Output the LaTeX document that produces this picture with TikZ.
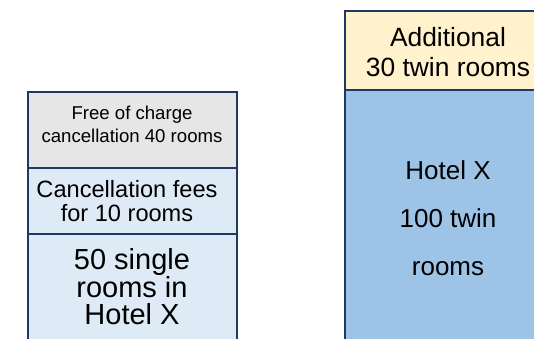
\documentclass[tikz,border=0pt]{standalone}
\usepackage{fontspec}
\setmainfont{Liberation Sans}
\usepackage{xcolor}
\usetikzlibrary{positioning}
\definecolor{navyline}{HTML}{1F3864}
\definecolor{freegrey}{HTML}{E7E6E6}
\definecolor{palesky}{HTML}{DEEBF7}
\definecolor{creamfill}{HTML}{FFF2CC}
\definecolor{hotelblue}{HTML}{9DC3E6}
\tikzset{
  roombox/.style={draw=navyline,line width=2.2pt,inner sep=0pt,anchor=north west,
    minimum width=209pt},
  roomtext/.style={align=center,text=black,inner sep=0pt}
}

\begin{document}
\begin{tikzpicture}[x=1pt,y=-1pt]
  \useasboundingbox (0,0) rectangle (534,339);
  % left column: 50 single rooms
  \node[roombox,fill=freegrey,minimum height=76pt] (freebox) at (27,91) {};
  \node[roombox,fill=palesky,minimum height=66pt] (feebox) at (27,167) {};
  \node[roombox,fill=palesky,minimum height=120pt] (singlebox) at (27,233) {};
  \node[roomtext,font=\fontsize{18.6}{23}\selectfont] (freetext) at (132,124)
    {Free of charge\\cancellation 40 rooms};
  \node[roomtext,font=\fontsize{23.6}{24}\selectfont] (feetext) at (127,201)
    {Cancellation fees\\for 10 rooms};
  \node[roomtext,font=\fontsize{29}{27}\selectfont] (singletext) at (132,287)
    {50 single\\rooms in\\Hotel X};
  % right column: 100 twin rooms
  \node[roombox,fill=creamfill,minimum width=211pt,minimum height=79pt] (addbox) at (344,10) {};
  \node[roombox,fill=hotelblue,minimum width=211pt,minimum height=264pt] (twinbox) at (344,89) {};
  \node[roomtext,font=\fontsize{26.4}{30}\selectfont] (addtext) at (448,52)
    {Additional\\30 twin rooms};
  \node[roomtext,font=\fontsize{26}{48}\selectfont] (twintext) at (448,218)
    {Hotel X\\100 twin\\rooms};
\end{tikzpicture}
\end{document}
